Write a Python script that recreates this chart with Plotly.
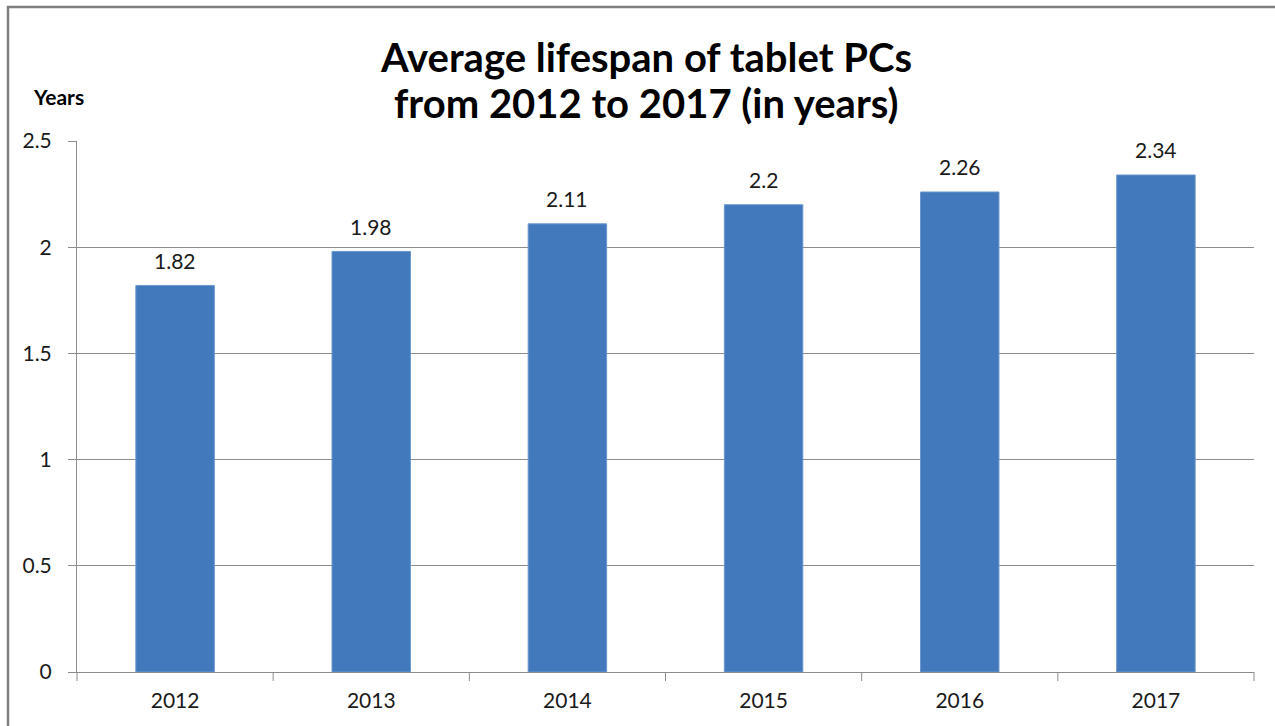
import plotly.graph_objects as go

years = ["2012", "2013", "2014", "2015", "2016", "2017"]
lifespan = [1.82, 1.98, 2.11, 2.2, 2.26, 2.34]
y_ticks = [0, 0.5, 1, 1.5, 2, 2.5]
y_tick_labels = ["0", "0.5", "1", "1.5", "2", "2.5"]
title_lines = ["Average lifespan of tablet PCs", "from 2012 to 2017 (in years)"]

W, H = 1275, 726
L, R, T, B = 77, 21, 141, 54
pw, ph = W - L - R, H - T - B

font_family = "Lato, 'Open Sans', sans-serif"
grid_color = "#8c8c8c"
text_color = "#1a1a1a"

fig = go.Figure(
    go.Bar(
        x=years,
        y=lifespan,
        width=0.4,
        marker=dict(color="#4279bd", line=dict(color="#6a98cc", width=1)),
        hoverinfo="x+y",
    )
)

# value labels above each bar (category axis positions are serial indices)
for i, v in enumerate(lifespan):
    fig.add_annotation(
        x=i, y=v, text=f"{v:g}", showarrow=False,
        yanchor="middle", yshift=25,
        font=dict(size=21, color=text_color, family=font_family),
    )

# chart frame
fig.add_shape(
    type="rect", xref="paper", yref="paper",
    x0=(8 - L) / pw, x1=(W + 10 - L) / pw,
    y0=-(H + 10 - T - ph) / ph, y1=1 + (T - 7) / ph,
    line=dict(color="#7f7f7f", width=2.5),
)

# category separator ticks along the bottom axis
for i in range(len(years) + 1):
    fig.add_shape(
        type="line", xref="paper", yref="paper",
        x0=i / len(years), x1=i / len(years), y0=0, y1=-9 / ph,
        line=dict(color=grid_color, width=1),
    )

# two-line title
for line, ypix in zip(title_lines, [57, 103]):
    fig.add_annotation(
        text=f"<b>{line}</b>", xref="paper", yref="paper",
        x=(W / 2 + 8 - L) / pw, y=1 + (T - ypix) / ph,
        xanchor="center", yanchor="middle", showarrow=False,
        font=dict(size=40, color="#000", family=font_family),
    )

fig.add_annotation(
    text="<b>Years</b>", xref="paper", yref="paper",
    x=(31 - L) / pw, y=1 + (T - 96) / ph, xanchor="left", yanchor="middle",
    showarrow=False, font=dict(size=21, color="#000", family=font_family),
)

fig.update_layout(
    width=W, height=H,
    margin=dict(l=L, r=R, t=T, b=B),
    paper_bgcolor="white", plot_bgcolor="white",
    showlegend=False,
    font=dict(family=font_family, size=21, color=text_color),
    bargap=0.6,
)

fig.update_xaxes(
    type="category", range=[-0.5, len(years) - 0.5],
    showline=True, linecolor=grid_color, linewidth=1,
    ticks="", showgrid=False,
    ticklabelstandoff=10,
    tickfont=dict(size=21, color=text_color),
)
fig.update_yaxes(
    range=[0, 2.5], tickvals=y_ticks, ticktext=y_tick_labels,
    showgrid=True, gridcolor=grid_color, gridwidth=1,
    showline=True, linecolor=grid_color, linewidth=1,
    ticks="outside", ticklen=8, tickcolor=grid_color,
    ticklabelstandoff=12,
    tickfont=dict(size=21, color=text_color),
    zeroline=False,
)

fig.write_html("out.html")
